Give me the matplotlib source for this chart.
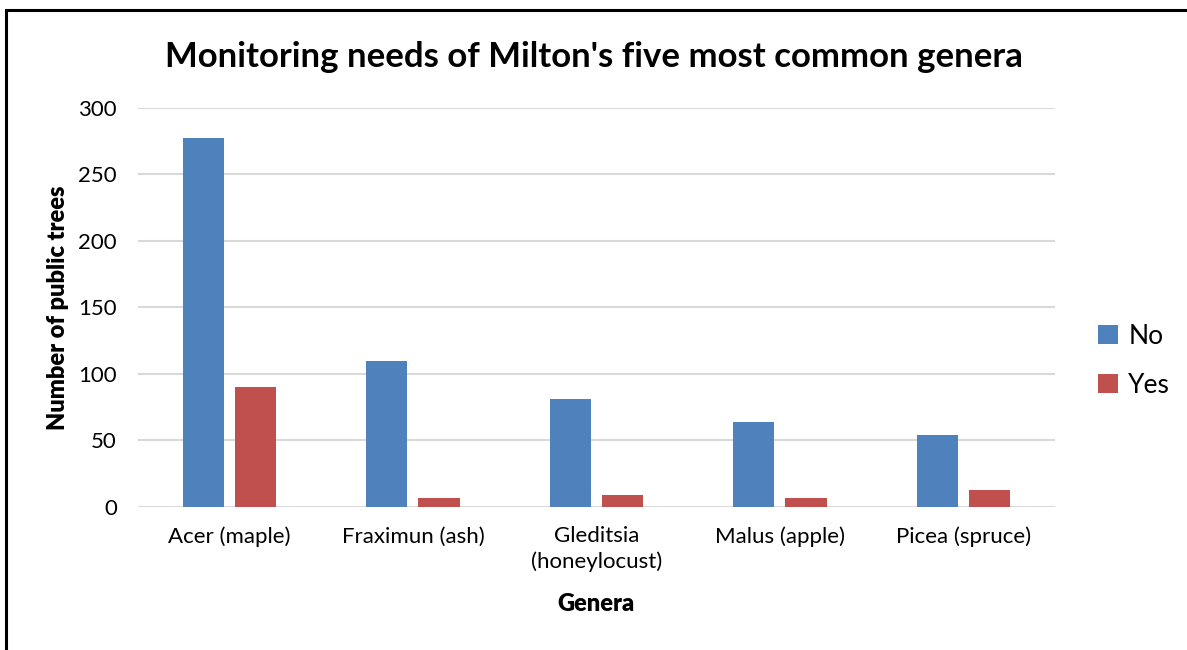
import matplotlib.pyplot as plt
from matplotlib.patches import Rectangle
import numpy as np

plt.rcParams['font.family'] = ['Lato', 'DejaVu Sans']

genera = ['Acer (maple)', 'Fraximun (ash)', 'Gleditsia\n(honeylocust)',
          'Malus (apple)', 'Picea (spruce)']
no_counts = [277, 110, 81, 64, 54]
yes_counts = [90, 7, 9, 7, 13]

blue = '#4F81BD'
red = '#C0504D'

fig = plt.figure(figsize=(11.87, 6.5), dpi=100)
ax = fig.add_axes([0.116, 0.22, 0.773, 0.614])

x = np.arange(len(genera))
w = 0.224
ax.bar(x - 0.142, no_counts, w, color=blue, label='No', zorder=3)
ax.bar(x + 0.142, yes_counts, w, color=red, label='Yes', zorder=3)

ax.set_xlim(-0.5, len(genera) - 0.5)
ax.set_ylim(0, 300)
ax.set_yticks(range(0, 301, 50))
ax.yaxis.grid(True, color='#d9d9d9', linewidth=1.5, zorder=0)
ax.set_axisbelow(True)
for s in ax.spines.values():
    s.set_visible(False)
ax.tick_params(length=0, labelsize=16, pad=15)
ax.set_xticks(x)
ax.set_xticklabels(genera, linespacing=1.3)
ax.tick_params(axis='x', pad=14)

ax.set_ylabel('Number of public trees', fontsize=17, fontweight='heavy', labelpad=7)
ax.set_xlabel('Genera', fontsize=17, fontweight='heavy', labelpad=15)
fig.text(0.5, 0.913, "Monitoring needs of Milton's five most common genera",
         fontsize=25, fontweight='bold', ha='center', va='center')

fig.legend(loc='center left', bbox_to_anchor=(0.905, 0.445), frameon=False,
           fontsize=19, handlelength=0.75, handleheight=0.75, handletextpad=0.4,
           labelspacing=0.9)

# chart frame
fig.patches.append(Rectangle((0.005, -0.1), 1.2, 1.085, transform=fig.transFigure,
                             fill=False, edgecolor='black', linewidth=2.2))

fig.savefig('out.png', dpi=100)
